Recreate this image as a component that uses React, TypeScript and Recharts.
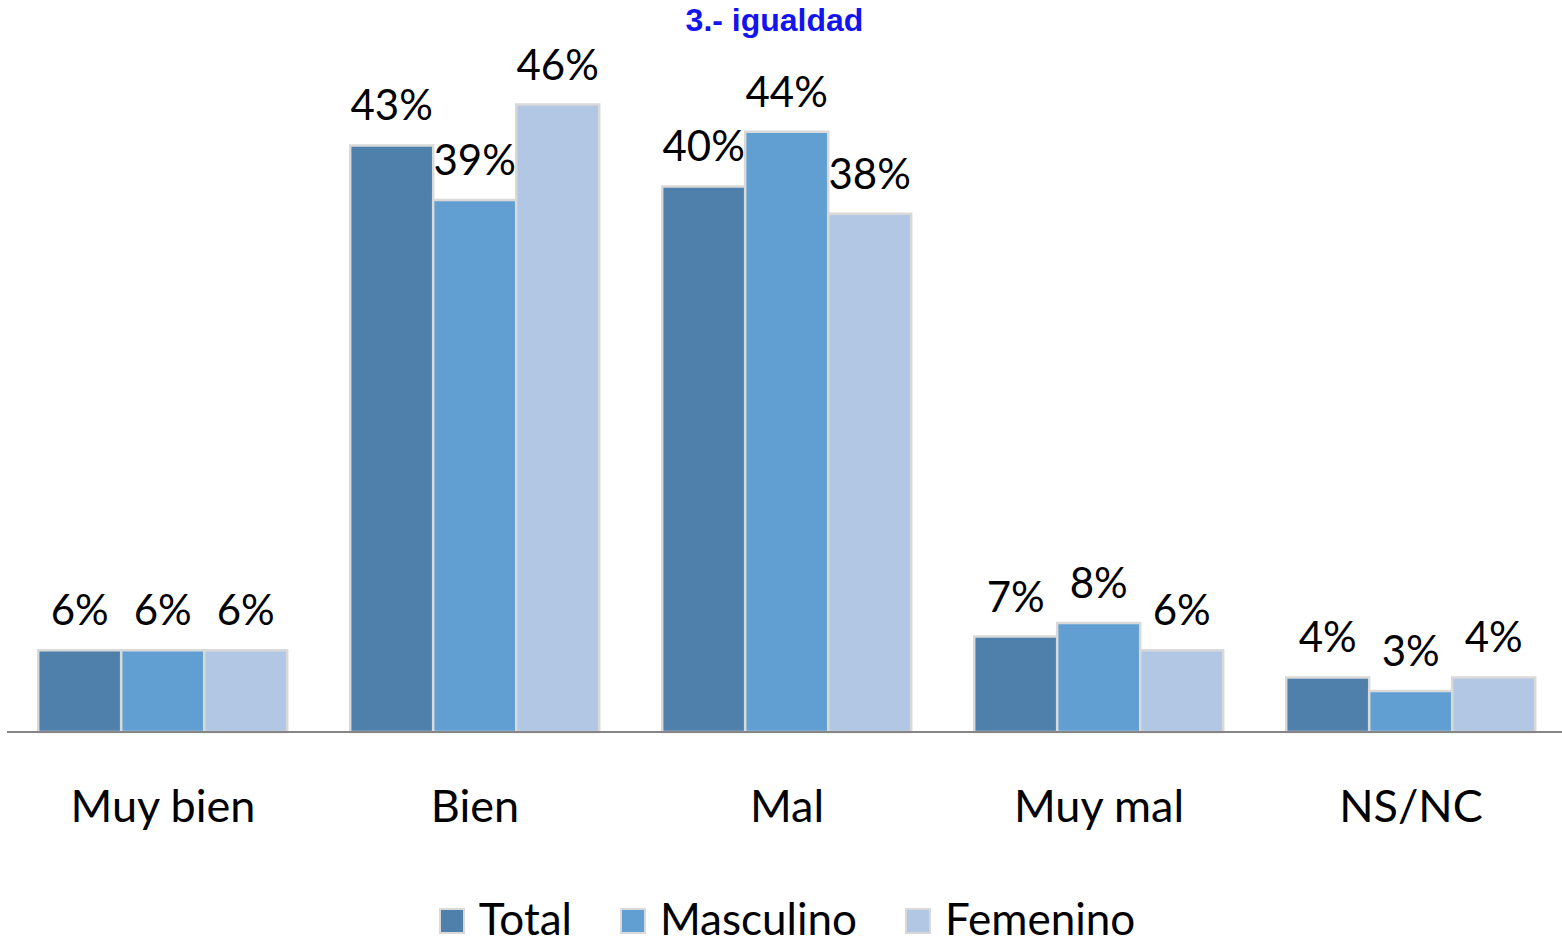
import { BarChart, Bar, XAxis, YAxis, Legend, LabelList } from "recharts";

const categories = ["Muy bien", "Bien", "Mal", "Muy mal", "NS/NC"];
const total = [6, 43, 40, 7, 4];
const masculino = [6, 39, 44, 8, 3];
const femenino = [6, 46, 38, 6, 4];

const SERIES = [
  { key: "total", label: "Total", color: "#4F7FAB" },
  { key: "masculino", label: "Masculino", color: "#619ED2" },
  { key: "femenino", label: "Femenino", color: "#B1C7E4" },
];

const data = categories.map((name, i) => ({
  name,
  total: total[i],
  masculino: masculino[i],
  femenino: femenino[i],
}));

const FONT = "Lato, 'Open Sans', sans-serif";

function LegendContent() {
  return (
    <div
      style={{
        height: 62,
        display: "flex",
        justifyContent: "center",
        alignItems: "flex-end",
        fontFamily: FONT,
        fontSize: 44,
        color: "#000",
        paddingBottom: 2,
        boxSizing: "border-box",
      }}
    >
      {SERIES.map((s, i) => (
        <div
          key={s.key}
          style={{ display: "flex", alignItems: "center", marginLeft: i === 0 ? 0 : 48 }}
        >
          <div
            style={{
              width: 22,
              height: 22,
              background: s.color,
              border: "2px solid #D9D9D9",
              marginRight: 14,
              marginTop: 6,
            }}
          />
          <span style={{ display: "block", lineHeight: "48px", height: 48 }}>{s.label}</span>
        </div>
      ))}
    </div>
  );
}

export default function App() {
  return (
    <div
      style={{
        position: "absolute",
        left: 0,
        top: 0,
        width: 1562,
        height: 944,
        overflow: "hidden",
        background: "#fff",
      }}
    >
      <div
        style={{
          position: "absolute",
          top: 2,
          left: 0,
          width: 1549,
          textAlign: "center",
          fontFamily: "'Liberation Sans', Arial, sans-serif",
          fontWeight: "bold",
          fontSize: 32,
          color: "#1414F0",
          zIndex: 2,
        }}
      >
        3.- igualdad
      </div>
      <BarChart
        width={1568}
        height={944}
        data={data}
        margin={{ top: 50, right: 1, left: 7, bottom: 0 }}
        barCategoryGap="10%"
        barGap={0}
      >
        <YAxis hide domain={[0, 50]} />
        <XAxis
          dataKey="name"
          height={150}
          tickLine={false}
          tickSize={0}
          tickMargin={58}
          axisLine={{ stroke: "#868686", strokeWidth: 2 }}
          tick={{ fill: "#000", fontSize: 45, fontFamily: FONT }}
        />
        <Legend verticalAlign="bottom" content={() => <LegendContent />} />
        {SERIES.map((s) => (
          <Bar
            key={s.key}
            dataKey={s.key}
            name={s.label}
            fill={s.color}
            stroke="#D9D9D9"
            strokeWidth={2.5}
            isAnimationActive={false}
          >
            <LabelList
              dataKey={s.key}
              position="top"
              offset={25}
              formatter={(v: number) => `${v}%`}
              style={{ fill: "#000", fontSize: 42, fontFamily: FONT }}
            />
          </Bar>
        ))}
      </BarChart>
    </div>
  );
}
